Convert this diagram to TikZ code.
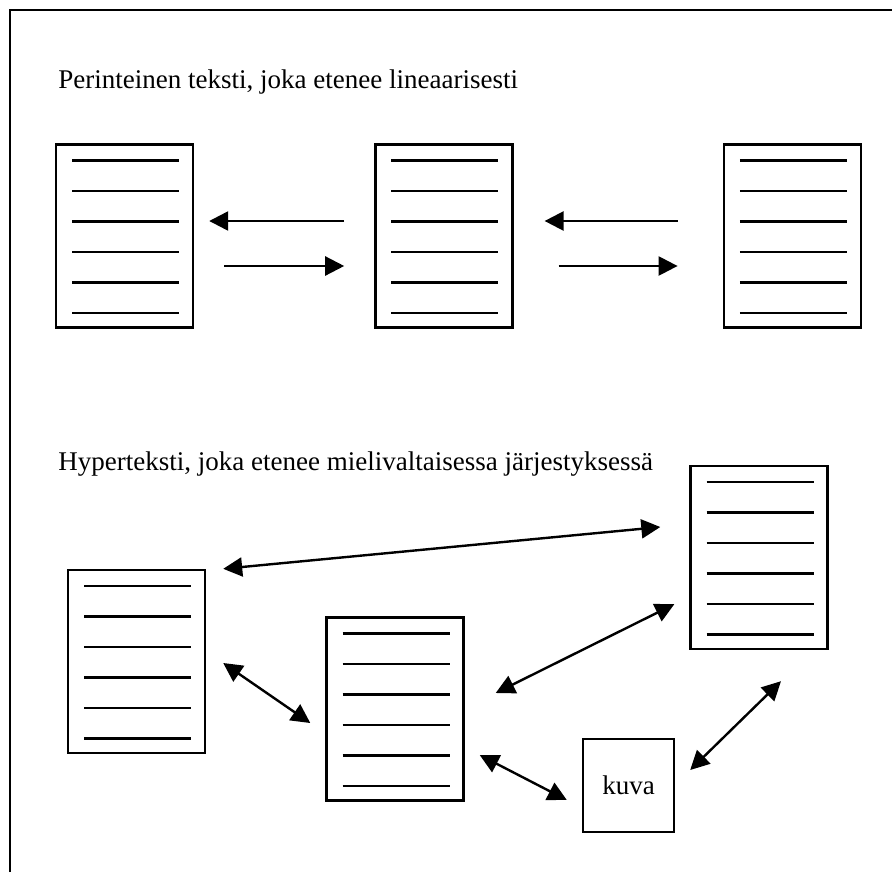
\documentclass[tikz,border=0pt]{standalone}
\usepackage{fontspec}
\setmainfont{Liberation Serif}
\usetikzlibrary{positioning, arrows.meta}
\tikzset{
	every node/.append style={
		font=\fontsize{13.5}{16}\selectfont,
	},
	otsikko/.append style={
		anchor=base west,
		inner sep=0pt,
	},
	sivu/.append style={
		draw,
		line width=1.2pt,
		minimum width=68.5pt,
		minimum height=91.5pt,
		path picture={
			\foreach \rivi in {0,...,5}
				\draw[line width=1.2pt] ([shift={(8pt,-8pt-15.25pt*\rivi)}]path picture bounding box.north west) -- ++(53.5pt,0pt);
		},
	},
	kuvaruutu/.append style={
		draw,
		line width=1.2pt,
		minimum width=45.5pt,
		minimum height=46.5pt,
	},
	nuoli/.append style={
		line width=1.2pt,
		-{Triangle[length=9.5pt,width=9.5pt]},
	},
	kaksinuoli/.append style={
		line width=1.2pt,
		{Triangle[length=9.5pt,width=9.5pt]}-{Triangle[length=9.5pt,width=9.5pt]},
	},
}

\begin{document}
\begin{tikzpicture}[x=0.5pt, y=-0.5pt]
	\useasboundingbox (0,0) rectangle (892,872);
	\draw[line width=1.2pt] (10,872) -- (10,10) -- (892,10);

	% lineaarinen
	\node[otsikko] (ots1) at (58,89) {Perinteinen teksti, joka etenee lineaarisesti};
	\node[sivu] (t1) at (124.5,236) {};
	\node[sivu] (t2) [right=90pt of t1] {};
	\node[sivu] (t3) [right=104.5pt of t2] {};

	\draw[nuoli] ([shift={(-30,-15)}]t2.west) -- ([shift={(15,-15)}]t1.east);
	\draw[nuoli] ([shift={(30,30)}]t1.east) -- ([shift={(-30,30)}]t2.west);
	\draw[nuoli] ([shift={(-45,-15)}]t3.west) -- ([shift={(31,-15)}]t2.east);
	\draw[nuoli] ([shift={(45,30)}]t2.east) -- ([shift={(-45,30)}]t3.west);

	% hyperteksti
	\node[otsikko] (ots2) at (58,470) {Hyperteksti, joka etenee mielivaltaisessa järjestyksessä};
	\node[sivu] (h1) at (136.5,661.5) {};
	\node[sivu] (h2) at (395,709) {};
	\node[sivu] (h3) at (759,557.5) {};
	\node[kuvaruutu] (kuva) at (628.5,785.5) {kuva};

	\draw[kaksinuoli] ([shift={(17,0)}]h1.north east) -- ([shift={(-29,-30.5)}]h3.west);
	\draw[kaksinuoli] ([shift={(17,1.5)}]h1.east) -- ([shift={(-15,14)}]h2.west);
	\draw[kaksinuoli] ([shift={(31,-16)}]h2.east) -- ([shift={(-15,-46)}]h3.south west);
	\draw[kaksinuoli] ([shift={(15,46)}]h2.east) -- ([shift={(-15,14.5)}]kuva.west);
	\draw[kaksinuoli] ([shift={(15,-15.5)}]kuva.east) -- ([shift={(22,31)}]h3.south);
\end{tikzpicture}
\end{document}
